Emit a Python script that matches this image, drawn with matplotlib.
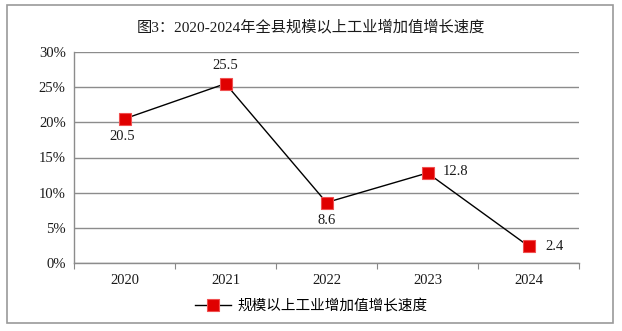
import matplotlib
matplotlib.use("Agg")
import matplotlib.pyplot as plt
from matplotlib.patches import Rectangle
from matplotlib.ticker import FuncFormatter, FixedLocator

plt.rcParams["font.family"] = ["Liberation Serif", "Noto Sans CJK SC", "DejaVu Sans"]

years = ["2020", "2021", "2022", "2023", "2024"]
growth = [20.5, 25.5, 8.6, 12.8, 2.4]
series_name = "规模以上工业增加值增长速度"
title = "图3：2020-2024年全县规模以上工业增加值增长速度"

# label placement per point: offset in points
label_offsets = [(-2, -13), (0, 13), (0, -13), (20, 1), (19, 0)]

fig = plt.figure(figsize=(6.22, 3.31), dpi=100)
fig.patches.append(Rectangle((7 / 622, 1 - 323 / 331), 606 / 622, 318 / 331,
                             transform=fig.transFigure, fill=False,
                             edgecolor="#9a9a9a", linewidth=1.2))

ax = fig.add_axes([74 / 622, 1 - 263 / 331, 505 / 622, 211 / 331])
x = list(range(len(years)))
ax.plot(x, growth, color="black", linewidth=1.0, marker="s", markersize=8.5,
        markerfacecolor="#e00000", markeredgecolor="#f05050", markeredgewidth=0.8,
        label=series_name, zorder=3)

for xi, v, (dx, dy) in zip(x, growth, label_offsets):
    ax.annotate(f"{v}", (xi, v), xytext=(dx, dy), textcoords="offset points",
                ha="center", va="center", fontsize=10.5, color="#1a1a1a")

ax.set_xlim(-0.5, len(years) - 0.5)
ax.set_ylim(0, 30)
ax.set_yticks([0, 5, 10, 15, 20, 25, 30])
ax.yaxis.set_major_formatter(FuncFormatter(lambda v, _: f"{int(v)}%"))
ax.set_xticks(x)
ax.set_xticklabels(years)
ax.xaxis.set_minor_locator(FixedLocator([i + 0.5 for i in range(-1, len(years))]))
ax.tick_params(axis="x", which="major", length=0, pad=8, labelsize=10.5, colors="#1a1a1a")
ax.tick_params(axis="x", which="minor", length=4, color="#888888", width=0.8)
ax.tick_params(axis="y", length=0, pad=6, labelsize=10.5, colors="#1a1a1a")
ax.grid(axis="y", color="#8c8c8c", linewidth=1.0)
ax.set_axisbelow(True)
for side in ["top", "right"]:
    ax.spines[side].set_visible(False)
for side in ["left", "bottom"]:
    ax.spines[side].set_color("#8c8c8c")
    ax.spines[side].set_linewidth(1.0)

fig.text(0.5, 1 - 27 / 331, title, ha="center", va="center", fontsize=11, color="#1a1a1a")
fig.legend(loc="center", bbox_to_anchor=(0.5, 1 - 306 / 331), frameon=False,
           fontsize=10.5, handlelength=2.5, handletextpad=0.4)

fig.savefig("out.png", dpi=100)
